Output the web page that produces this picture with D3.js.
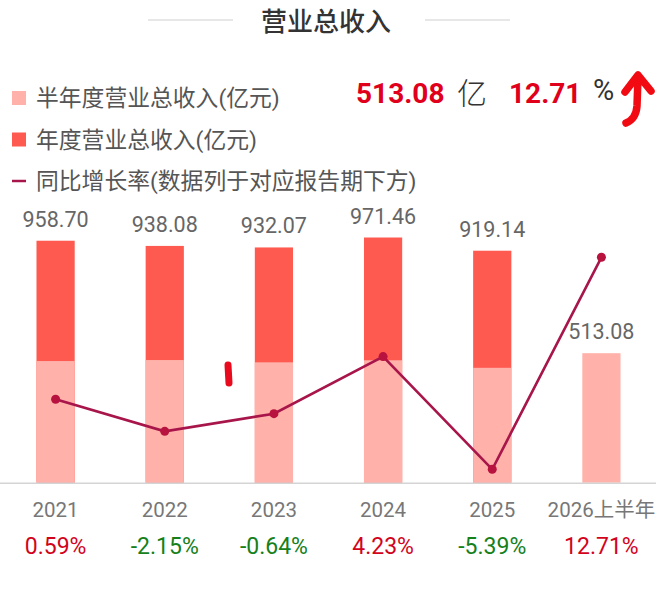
<!DOCTYPE html>
<html>
<head>
<meta charset="utf-8">
<script src="https://cdn.jsdelivr.net/npm/d3@7"></script>
<style>
  html, body { margin: 0; padding: 0; background: #fff; }
  svg text { font-family: Roboto, "Noto Sans CJK SC", sans-serif; }
</style>
</head>
<body>
<svg id="chart" width="660" height="593"></svg>
<script>
// data
const years = ['2021', '2022', '2023', '2024', '2025', '2026上半年'];
const annualRevenue = [958.70, 938.08, 932.07, 971.46, 919.14, null];
const halfYearRevenue = [482, 486, 477, 485, 455.22, 513.08];
const yoyGrowth = [0.59, -2.15, -0.64, 4.23, -5.39, 12.71];
const legendItems = ['半年度营业总收入(亿元)', '年度营业总收入(亿元)', '同比增长率(数据列于对应报告期下方)'];

const svg = d3.select('#chart');

const darkRed = '#ff5a50';
const lightRed = '#ffb1aa';
const lineColor = '#a8154a';

// title
svg.append('text')
    .attr('x', 326).attr('y', 31)
    .attr('text-anchor', 'middle')
    .attr('font-size', 26)
    .attr('font-weight', 500)
    .attr('fill', '#333')
    .text('营业总收入');
svg.append('line').attr('x1', 148).attr('x2', 233).attr('y1', 20).attr('y2', 20)
    .attr('stroke', '#d0d0d0').attr('stroke-width', 1.2);
svg.append('line').attr('x1', 425).attr('x2', 510).attr('y1', 20).attr('y2', 20)
    .attr('stroke', '#d0d0d0').attr('stroke-width', 1.2);

// legend
const legend = svg.append('g');
legendItems.forEach((label, i) => {
    const cy = 98 + i * 41.5;
    if (i < 2) {
        legend.append('rect')
            .attr('x', 12).attr('y', cy - 7)
            .attr('width', 14).attr('height', 14)
            .attr('fill', i === 0 ? lightRed : darkRed);
    } else {
        legend.append('line')
            .attr('x1', 12).attr('x2', 26).attr('y1', cy).attr('y2', cy)
            .attr('stroke', lineColor).attr('stroke-width', 2.5);
    }
    legend.append('text')
        .attr('x', 36).attr('y', cy + 8)
        .attr('font-size', 22.8)
        .attr('fill', '#555')
        .text(label);
});

// headline numbers
const last = years.length - 1;
const head = svg.append('g');
head.append('text').attr('x', 356).attr('y', 103).attr('font-size', 28).attr('font-weight', 'bold')
    .attr('fill', '#e0001b').text(halfYearRevenue[last].toFixed(2));
head.append('text').attr('x', 457).attr('y', 104).attr('font-size', 30).attr('font-weight', 300)
    .attr('fill', '#333').text('亿');
head.append('text').attr('x', 509).attr('y', 103).attr('font-size', 28).attr('font-weight', 'bold')
    .attr('fill', '#e0001b').text(yoyGrowth[last].toFixed(2));
head.append('text').attr('x', 593).attr('y', 100).attr('font-size', 29).attr('fill', '#333').text('%');

// hand drawn arrow
svg.append('path')
    .attr('d', 'M626,123 Q636,119 637,106 L638,77 M625,92 L638,75 L651,91')
    .attr('fill', 'none').attr('stroke', '#f20a12').attr('stroke-width', 7.5)
    .attr('stroke-linecap', 'round').attr('stroke-linejoin', 'round');

// scales
const x = d3.scaleBand().domain(years).range([1, 656]).paddingInner(0.65).paddingOuter(0.325);
const y = d3.scaleLinear().domain([0, 1000]).range([482.7, 230.3]);
const yRate = d3.scaleLinear().domain(d3.extent(yoyGrowth)).range([469.3, 257.3]);

const rows = years.map((yr, i) => ({ yr, annual: annualRevenue[i], half: halfYearRevenue[i], rate: yoyGrowth[i] }));

// annual bars (behind)
svg.append('g').selectAll('rect')
    .data(rows.filter(d => d.annual != null))
    .join('rect')
    .attr('x', d => x(d.yr)).attr('width', x.bandwidth())
    .attr('y', d => y(d.annual)).attr('height', d => y(0) - y(d.annual))
    .attr('fill', darkRed);

// half year bars (front)
svg.append('g').selectAll('rect')
    .data(rows)
    .join('rect')
    .attr('x', d => x(d.yr)).attr('width', x.bandwidth())
    .attr('y', d => y(d.half)).attr('height', d => y(0) - y(d.half))
    .attr('fill', lightRed);

// value labels
svg.append('g').selectAll('text')
    .data(rows)
    .join('text')
    .attr('x', d => x(d.yr) + x.bandwidth() / 2)
    .attr('y', d => y(d.annual != null ? d.annual : d.half) - 14)
    .attr('text-anchor', 'middle')
    .attr('font-size', 21.5)
    .attr('fill', '#666')
    .text(d => (d.annual != null ? d.annual : d.half).toFixed(2));

// x axis
const xAxis = svg.append('g')
    .attr('transform', `translate(0,${y(0)})`)
    .call(d3.axisBottom(x).tickSize(0).tickPadding(20));
xAxis.select('.domain').attr('stroke', '#d4d4d4').attr('stroke-width', 1.5).attr('d', 'M0,0.5H656');
xAxis.selectAll('text')
    .attr('font-size', 20.5)
    .attr('fill', '#777')
    .attr('font-family', 'Roboto, "Noto Sans CJK SC", sans-serif');

// growth rates under axis
svg.append('g').selectAll('text')
    .data(rows)
    .join('text')
    .attr('x', d => x(d.yr) + x.bandwidth() / 2)
    .attr('y', 554)
    .attr('text-anchor', 'middle')
    .attr('font-size', 23)
    .attr('fill', d => d.rate >= 0 ? '#d2041c' : '#16801a')
    .text(d => d.rate.toFixed(2) + '%');

// annotation stroke
svg.append('line')
    .attr('x1', 228).attr('y1', 365).attr('x2', 229).attr('y2', 383)
    .attr('stroke', '#ea0a1e').attr('stroke-width', 7).attr('stroke-linecap', 'round');

// growth line
const line = d3.line()
    .x(d => x(d.yr) + x.bandwidth() / 2)
    .y(d => yRate(d.rate));
svg.append('path')
    .datum(rows)
    .attr('d', line)
    .attr('fill', 'none')
    .attr('stroke', lineColor)
    .attr('stroke-width', 2.6);
svg.append('g').selectAll('circle')
    .data(rows)
    .join('circle')
    .attr('cx', d => x(d.yr) + x.bandwidth() / 2)
    .attr('cy', d => yRate(d.rate))
    .attr('r', 4.5)
    .attr('fill', '#b8123f');
</script>
</body>
</html>
